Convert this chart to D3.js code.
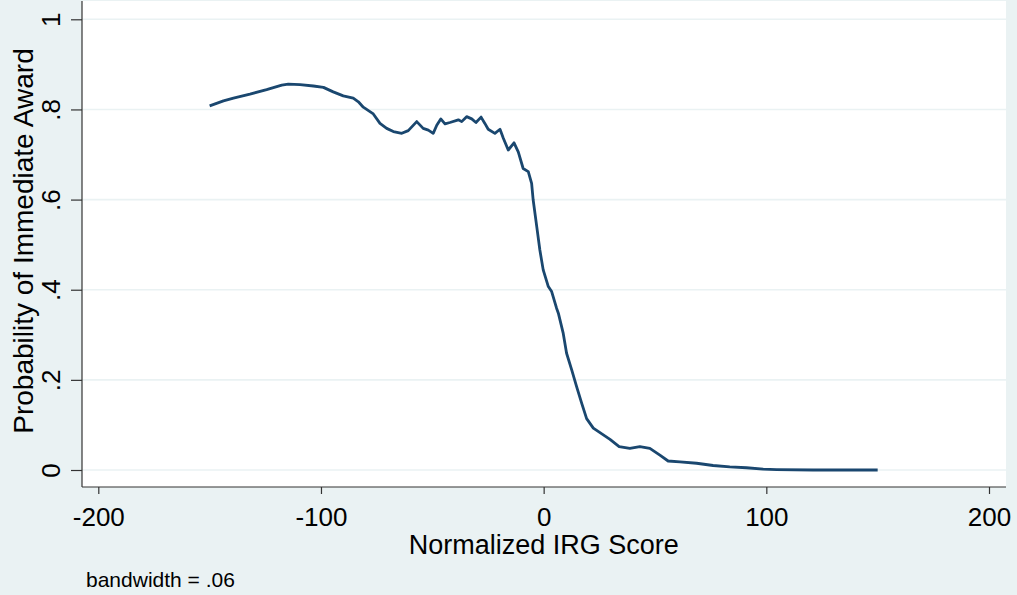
<!DOCTYPE html>
<html>
<head>
<meta charset="utf-8">
<script src="https://cdn.jsdelivr.net/npm/d3@7"></script>
<style>
  html, body { margin: 0; padding: 0; background: #EAF2F3; }
  svg { display: block; font-family: "Liberation Sans", Arial, sans-serif; }
</style>
</head>
<body>
<svg id="chart" width="1017" height="595"></svg>
<script>
// ---- data ----
const scoreX = [-150, -143.8, -139.3, -131.9, -124.4, -117.6, -114.7, -109.4, -103.4, -98.9,
  -94.5, -90.0, -85.5, -83.2, -81.0, -76.5, -73.5, -70.5, -67.5, -63.7, -60.8, -57.0, -54.1,
  -51.8, -49.6, -48.0, -46.2, -44.3, -42.1, -38.3, -36.8, -34.6, -32.3, -30.4, -28.1, -26.4,
  -24.9, -21.9, -19.6, -18.1, -15.9, -13.3, -11.4, -9.2, -6.9, -5.4, -4.7, -3.1, -1.7, -0.2,
  2.1, 3.6, 5.8, 6.6, 8.8, 10.3, 12.6, 14.8, 17.1, 19.3, 22.3, 26.8, 29.8, 33.9, 38.7, 43.2,
  47.7, 52.2, 55.9, 61.2, 68.7, 76.1, 83.6, 91.1, 98.6, 104.6, 121, 150];
const probAward = [0.808, 0.819, 0.825, 0.834, 0.844, 0.854, 0.856, 0.855, 0.852, 0.849,
  0.839, 0.830, 0.825, 0.817, 0.805, 0.790, 0.769, 0.758, 0.751, 0.747, 0.753, 0.773, 0.758,
  0.754, 0.747, 0.765, 0.779, 0.768, 0.771, 0.777, 0.773, 0.784, 0.779, 0.771, 0.783, 0.769,
  0.756, 0.747, 0.756, 0.736, 0.710, 0.726, 0.706, 0.669, 0.662, 0.636, 0.599, 0.540, 0.488, 0.444,
  0.407, 0.396, 0.359, 0.348, 0.303, 0.259, 0.222, 0.185, 0.148, 0.114, 0.093, 0.078, 0.068, 0.052, 0.048, 0.052,
  0.048, 0.033, 0.020, 0.018, 0.015, 0.010, 0.007, 0.005, 0.002, 0.001, 0, 0];
const xTicks = [-200, -100, 0, 100, 200];
const yTicks = [0, 0.2, 0.4, 0.6, 0.8, 1];
const yTickLabels = ["0", ".2", ".4", ".6", ".8", "1"];
const xTitle = "Normalized IRG Score";
const yTitle = "Probability of Immediate Award";
const note = "bandwidth = .06";

// ---- layout ----
const svg = d3.select("#chart");
const plot = { left: 82, right: 1006, top: 1, bottom: 487 };
const x = d3.scaleLinear().domain([-200, 200]).range([98.3, 989]);
const y = d3.scaleLinear().domain([0, 1]).range([470, 19.3]);
const bg = "#EAF2F3";
const axisColor = "#333";

svg.append("rect").attr("width", 1017).attr("height", 595).attr("fill", bg);
svg.append("rect")
  .attr("x", plot.left).attr("y", plot.top)
  .attr("width", plot.right - plot.left).attr("height", plot.bottom - plot.top)
  .attr("fill", "#fff");

// gridlines
svg.append("g").selectAll("line").data(yTicks).join("line")
  .attr("x1", plot.left).attr("x2", plot.right)
  .attr("y1", d => y(d)).attr("y2", d => y(d))
  .attr("stroke", bg).attr("stroke-width", 1.6);

// line
const line = d3.line().x((d, i) => x(scoreX[i])).y(d => y(d));
svg.append("path")
  .attr("d", line(probAward))
  .attr("fill", "none")
  .attr("stroke", "#1A476F")
  .attr("stroke-width", 2.8)
  .attr("stroke-linejoin", "round");

// y axis
const yAxis = svg.append("g").attr("transform", `translate(${plot.left},0)`)
  .call(d3.axisLeft(y).tickValues(yTicks).tickSize(11).tickFormat((d, i) => yTickLabels[i]));
yAxis.select(".domain").attr("d", `M0,${plot.top}V${plot.bottom}`).attr("stroke", axisColor).attr("stroke-width", 1.2);
yAxis.selectAll(".tick line").attr("stroke", axisColor).attr("stroke-width", 1.2);
yAxis.selectAll(".tick text")
  .attr("x", null).attr("dy", null)
  .attr("transform", "translate(-22,0) rotate(-90)")
  .attr("text-anchor", "middle")
  .attr("fill", "#000")
  .style("font-size", "26px")
  .style("font-family", "Liberation Sans, Arial, sans-serif");

// x axis
const xAxis = svg.append("g").attr("transform", `translate(0,${plot.bottom})`)
  .call(d3.axisBottom(x).tickValues(xTicks).tickSize(7).tickFormat(d3.format("d")));
xAxis.select(".domain").attr("d", `M${plot.left},0H${plot.right}`).attr("stroke", axisColor).attr("stroke-width", 1.2);
xAxis.selectAll(".tick line").attr("stroke", axisColor).attr("stroke-width", 1.2);
xAxis.selectAll(".tick text")
  .attr("y", 39).attr("dy", null)
  .attr("fill", "#000")
  .style("font-size", "26px")
  .style("font-family", "Liberation Sans, Arial, sans-serif")
  .text(d => d < 0 ? "-" + Math.abs(d) : String(d));

// titles
svg.append("text")
  .attr("x", 543.7).attr("y", 554)
  .attr("text-anchor", "middle")
  .style("font-size", "27px")
  .text(xTitle);
svg.append("text")
  .attr("transform", "translate(33,241) rotate(-90)")
  .attr("text-anchor", "middle")
  .style("font-size", "28px")
  .text(yTitle);
svg.append("text")
  .attr("x", 86).attr("y", 587)
  .style("font-size", "21px")
  .text(note);
</script>
</body>
</html>
